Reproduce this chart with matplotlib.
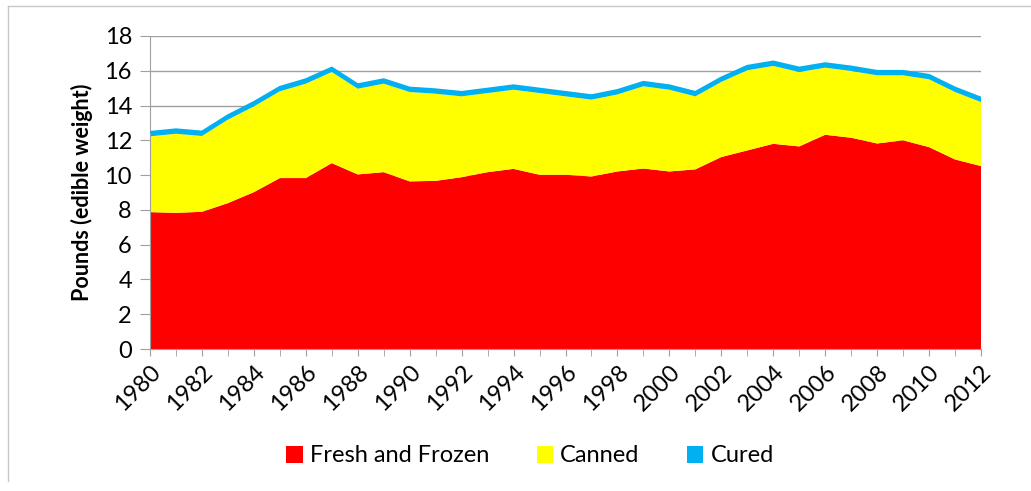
import matplotlib
matplotlib.use("Agg")
import matplotlib.pyplot as plt
from matplotlib.lines import Line2D
from matplotlib.patches import Patch

plt.rcParams['font.family'] = ['Lato', 'DejaVu Sans']

years = list(range(1980, 2013))
fresh_frozen = [7.87, 7.83, 7.89, 8.39, 9.02, 9.83, 9.83, 10.69, 10.04, 10.17,
                9.64, 9.67, 9.88, 10.17, 10.36, 10.02, 10.02, 9.92, 10.21, 10.38,
                10.21, 10.33, 11.04, 11.42, 11.80, 11.65, 12.32, 12.15, 11.82, 12.00,
                11.61, 10.90, 10.52]
canned_top = [12.23, 12.38, 12.25, 13.19, 13.95, 14.82, 15.26, 15.93, 14.97, 15.26,
              14.78, 14.68, 14.53, 14.72, 14.91, 14.72, 14.53, 14.34, 14.64, 15.11,
              14.91, 14.53, 15.36, 16.03, 16.28, 15.93, 16.18, 15.99, 15.74, 15.74,
              15.51, 14.78, 14.20]
canned = [round(t - f, 2) for t, f in zip(canned_top, fresh_frozen)]
cured = [0.25] * len(years)
series_names = ["Fresh and Frozen", "Canned", "Cured"]
colors = ["#FF0000", "#FFFF00", "#00B0F0"]
y_ticks = list(range(0, 19, 2))
x_labels = list(range(1980, 2013, 2))

W, H = 1031, 491
fig = plt.figure(figsize=(W / 100, H / 100), dpi=100)
ax = fig.add_axes([150 / W, 1 - 349 / H, (981 - 150) / W, (349 - 36) / H])

ax.stackplot(years, fresh_frozen, canned, cured, colors=colors,
             edgecolor='none', linewidth=0)
tot = [f + c + k for f, c, k in zip(fresh_frozen, canned, cured)]
ax.plot(years, tot, color=colors[2], lw=1.5, solid_joinstyle='round', zorder=3)

ax.set_xlim(1980, 2012)
ax.set_ylim(0, 18)
ax.set_yticks(y_ticks)
ax.set_yticklabels([str(v) for v in y_ticks], fontsize=17)
ax.set_xticks(years, minor=True)
ax.set_xticks(x_labels)
ax.set_xticklabels([str(v) for v in x_labels], rotation=45, ha='right',
                   rotation_mode='anchor', fontsize=17)
ax.tick_params(axis='x', which='both', direction='out', length=5, color='#A0A0A0', pad=4)
ax.tick_params(axis='y', direction='out', length=7, color='#A0A0A0', pad=6)
ax.grid(axis='y', color='#A0A0A0', lw=1.0, zorder=0)
ax.set_axisbelow(True)
for s in ['top', 'right']:
    ax.spines[s].set_visible(False)
for s in ['left', 'bottom']:
    ax.spines[s].set_color('#A0A0A0')
ax.set_ylabel("Pounds (edible weight)", fontsize=15.5, fontweight='bold', labelpad=8)

handles = [Patch(facecolor=c, edgecolor='none') for c in colors]
fig.legend(handles, series_names, loc='center', bbox_to_anchor=(530 / W, 1 - 456 / H),
           ncol=3, frameon=False, fontsize=17, handlelength=0.7, handleheight=0.7,
           columnspacing=2.0, handletextpad=0.3)

fig.add_artist(Line2D([8 / W, 1], [1 - 6 / H, 1 - 6 / H], color='#C8C8C8', lw=1))
fig.add_artist(Line2D([8 / W, 8 / W], [0.02, 1 - 6 / H], color='#C8C8C8', lw=1))

fig.savefig("out.png", dpi=100)
